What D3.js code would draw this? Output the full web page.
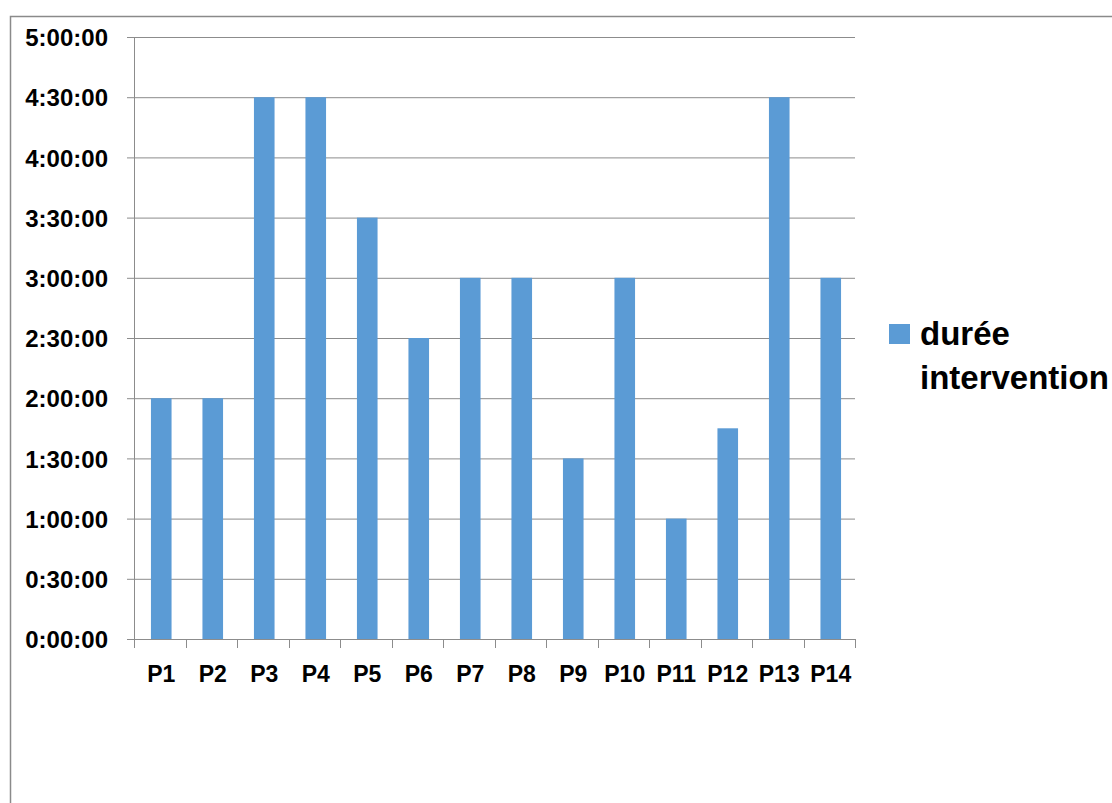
<!DOCTYPE html>
<html>
<head>
<meta charset="utf-8">
<script src="https://cdn.jsdelivr.net/npm/d3@7"></script>
<style>
  html, body { margin: 0; padding: 0; background: #fff; }
  svg { display: block; }
  text { font-family: "Liberation Sans", Arial, sans-serif; font-weight: bold; fill: #000; }
</style>
</head>
<body>
<svg id="chart" width="1112" height="803"></svg>
<script>
// Patients and intervention durations (minutes)
const categories = ["P1","P2","P3","P4","P5","P6","P7","P8","P9","P10","P11","P12","P13","P14"];
const durations = [120, 120, 270, 270, 210, 150, 180, 180, 90, 180, 60, 105, 270, 180];
const yTicks = [0, 30, 60, 90, 120, 150, 180, 210, 240, 270, 300];
const seriesName = ["durée", "intervention"];

const W = 1112, H = 803;
const plot = { left: 134, right: 855, top: 37, bottom: 639 };
const barColor = "#5B9BD5";
const gridColor = "#8c8c8c";

const svg = d3.select("#chart");

// outer chart frame
svg.append("rect")
  .attr("x", 10.5).attr("y", 16.5)
  .attr("width", W + 20).attr("height", H + 20)
  .attr("fill", "none").attr("stroke", "#8a8a8a").attr("stroke-width", 1.5);

const x = d3.scaleBand().domain(categories).range([plot.left + 1.5, plot.right + 1.5]).paddingInner(0.6).paddingOuter(0.3);
const y = d3.scaleLinear().domain([0, 300]).range([plot.bottom, plot.top]);

const fmt = m => `${Math.floor(m / 60)}:${String(m % 60).padStart(2, "0")}:00`;

// horizontal gridlines with left tick marks
const yAxis = d3.axisLeft(y).tickValues(yTicks).tickFormat(fmt)
  .tickSize(-(plot.right - plot.left)).tickPadding(26);
const gy = svg.append("g").attr("transform", `translate(${plot.left},0)`).call(yAxis);
gy.select(".domain").remove();
gy.selectAll(".tick line")
  .attr("x1", -7).attr("stroke", gridColor).attr("stroke-width", 1);
gy.selectAll(".tick text").attr("font-size", 24).style("font-family", "'Liberation Sans', Arial, sans-serif").style("font-weight", "bold")
  .attr("fill", "#000").attr("dy", "0.36em");

// bars
svg.append("g").selectAll("rect").data(categories).join("rect")
  .attr("x", d => x(d))
  .attr("width", x.bandwidth())
  .attr("y", (d, i) => y(durations[i]))
  .attr("height", (d, i) => y(0) - y(durations[i]))
  .attr("fill", barColor);

// vertical axis line
svg.append("line")
  .attr("x1", plot.left + 0.5).attr("x2", plot.left + 0.5)
  .attr("y1", plot.top).attr("y2", plot.bottom)
  .attr("stroke", gridColor);

// category axis
const xb = d3.scalePoint().domain(d3.range(categories.length + 1)).range([plot.left, plot.right]);
const gx = svg.append("g");
gx.append("line")
  .attr("x1", plot.left - 7).attr("x2", plot.right)
  .attr("y1", plot.bottom + 0.5).attr("y2", plot.bottom + 0.5)
  .attr("stroke", gridColor);
gx.selectAll("line.tick").data(xb.domain()).join("line").attr("class", "tick")
  .attr("x1", d => Math.round(xb(d)) + 0.5).attr("x2", d => Math.round(xb(d)) + 0.5)
  .attr("y1", plot.bottom).attr("y2", plot.bottom + 9)
  .attr("stroke", gridColor);
gx.selectAll("text").data(categories).join("text")
  .attr("x", d => x(d) + x.bandwidth() / 2)
  .attr("y", 682)
  .attr("text-anchor", "middle")
  .attr("font-size", 23)
  .text(d => d);

// legend
const lg = svg.append("g");
lg.append("rect").attr("x", 889).attr("y", 324).attr("width", 21).attr("height", 20).attr("fill", barColor);
lg.selectAll("text").data(seriesName).join("text")
  .attr("x", 920)
  .attr("y", (d, i) => 345 + i * 44)
  .attr("font-size", 33)
  .text(d => d);
</script>
</body>
</html>
